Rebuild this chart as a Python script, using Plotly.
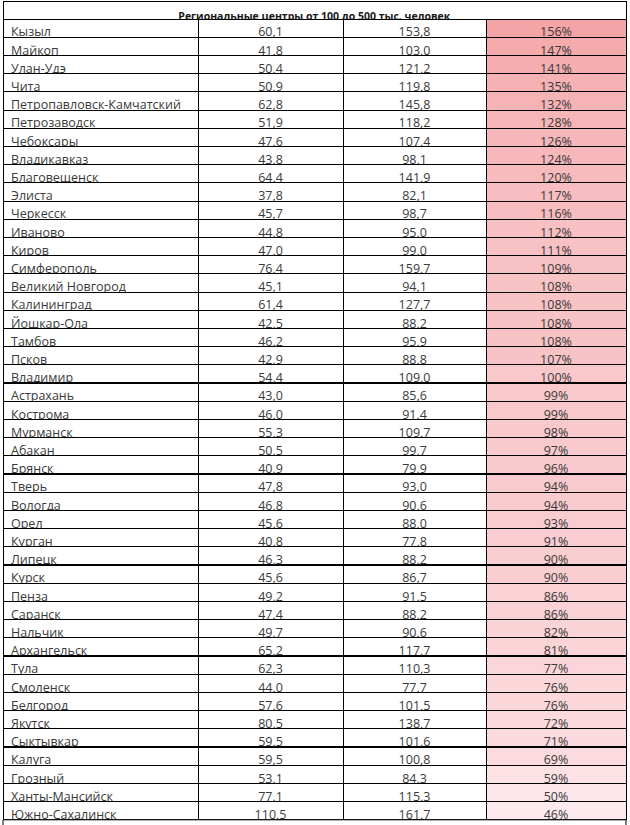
import plotly.graph_objects as go

title = "Региональные центры от 100 до 500 тыс. человек"

cities = ["Кызыл", "Майкоп", "Улан-Удэ", "Чита", "Петропавловск-Камчатский", "Петрозаводск",
          "Чебоксары", "Владикавказ", "Благовещенск", "Элиста", "Черкесск", "Иваново", "Киров",
          "Симферополь", "Великий Новгород", "Калининград", "Йошкар-Ола", "Тамбов", "Псков",
          "Владимир", "Астрахань", "Кострома", "Мурманск", "Абакан", "Брянск", "Тверь", "Вологда",
          "Орел", "Курган", "Липецк", "Курск", "Пенза", "Саранск", "Нальчик", "Архангельск",
          "Тула", "Смоленск", "Белгород", "Якутск", "Сыктывкар", "Калуга", "Грозный",
          "Ханты-Мансийск", "Южно-Сахалинск"]

values_a = [60.1, 41.8, 50.4, 50.9, 62.8, 51.9, 47.6, 43.8, 64.4, 37.8, 45.7, 44.8, 47.0,
            76.4, 45.1, 61.4, 42.5, 46.2, 42.9, 54.4, 43.0, 46.0, 55.3, 50.5, 40.9, 47.8, 46.8,
            45.6, 40.8, 46.3, 45.6, 49.2, 47.4, 49.7, 65.2, 62.3, 44.0, 57.6, 80.5, 59.5, 59.5,
            53.1, 77.1, 110.5]

values_b = [153.8, 103.0, 121.2, 119.8, 145.8, 118.2, 107.4, 98.1, 141.9, 82.1, 98.7, 95.0, 99.0,
            159.7, 94.1, 127.7, 88.2, 95.9, 88.8, 109.0, 85.6, 91.4, 109.7, 99.7, 79.9, 93.0, 90.6,
            88.0, 77.8, 88.2, 86.7, 91.5, 88.2, 90.6, 117.7, 110.3, 77.7, 101.5, 138.7, 101.6, 100.8,
            84.3, 115.3, 161.7]

growth_pct = [156, 147, 141, 135, 132, 128, 126, 124, 120, 117, 116, 112, 111,
              109, 108, 108, 108, 108, 107, 100, 99, 99, 98, 97, 96, 94, 94,
              93, 91, 90, 90, 86, 86, 82, 81, 77, 76, 76, 72, 71, 69,
              59, 50, 46]

W, H = 630, 825
FONT = "Open Sans"
TXT = "#3a3a3a"

def fmt(v):
    return f"{v:.1f}".replace(".", ",")

lo_c = (253, 234, 238)
hi_c = (244, 164, 166)
vmin, vmax = min(growth_pct), max(growth_pct)

def scale(v):
    t = (v - vmin) / (vmax - vmin)
    r, g, b = (round(lo_c[i] + (hi_c[i] - lo_c[i]) * t) for i in range(3))
    return f"rgb({r},{g},{b})"

col_city = list(cities)
col_a = [fmt(v) for v in values_a]
col_b = [fmt(v) for v in values_b]
col_p = [f"{v}%" for v in growth_pct]
pct_colors = [scale(v) for v in growth_pct]
white = ["white"] * len(cities)

x0, x1 = 3 / W, 626 / W
head_top, head_bot = 1, 19
row_h = 18.2
data_bot = head_bot + row_h * len(cities)
aligns = ["left", "center", "center", "center"]
cell_font = dict(family=FONT, size=12.5, color=TXT)
border = dict(color="black", width=1)

fig = go.Figure()

# title row (its single blank cell sits hidden beneath the data table)
fig.add_trace(go.Table(
    domain=dict(x=[x0, x1], y=[0, 1 - head_top / H]),
    columnwidth=[1],
    header=dict(values=[f"<b>{title}</b>"], align="center",
                height=head_bot - head_top,
                fill=dict(color="white"), line=border,
                font=dict(family=FONT, size=10.5, color="#1a1a1a")),
    cells=dict(values=[[""]], height=row_h, fill=dict(color="rgba(0,0,0,0)"),
               line=dict(width=0)),
))

fig.add_trace(go.Table(
    domain=dict(x=[x0, x1], y=[0, 1 - head_bot / H]),
    columnwidth=[195, 145, 143, 140],
    header=dict(
        values=[col_city[0], col_a[0], col_b[0], col_p[0]],
        align=aligns, height=row_h,
        fill=dict(color=["white", "white", "white", pct_colors[0]]),
        line=border, font=cell_font,
    ),
    cells=dict(
        values=[col_city[1:], col_a[1:], col_b[1:], col_p[1:]],
        align=aligns, height=row_h,
        fill=dict(color=[white[1:], white[1:], white[1:], pct_colors[1:]]),
        line=border, font=cell_font,
    ),
))

fig.add_shape(type="rect", xref="paper", yref="paper",
              x0=x0, x1=x1, y0=-0.02, y1=1 - data_bot / H,
              line=dict(color="black", width=1), fillcolor="white")

fig.update_layout(width=W, height=H, margin=dict(l=0, r=0, t=0, b=0),
                  paper_bgcolor="white", plot_bgcolor="white")

fig.write_html("out.html", config={"displayModeBar": False},
               post_script="document.body.style.margin='0';")
